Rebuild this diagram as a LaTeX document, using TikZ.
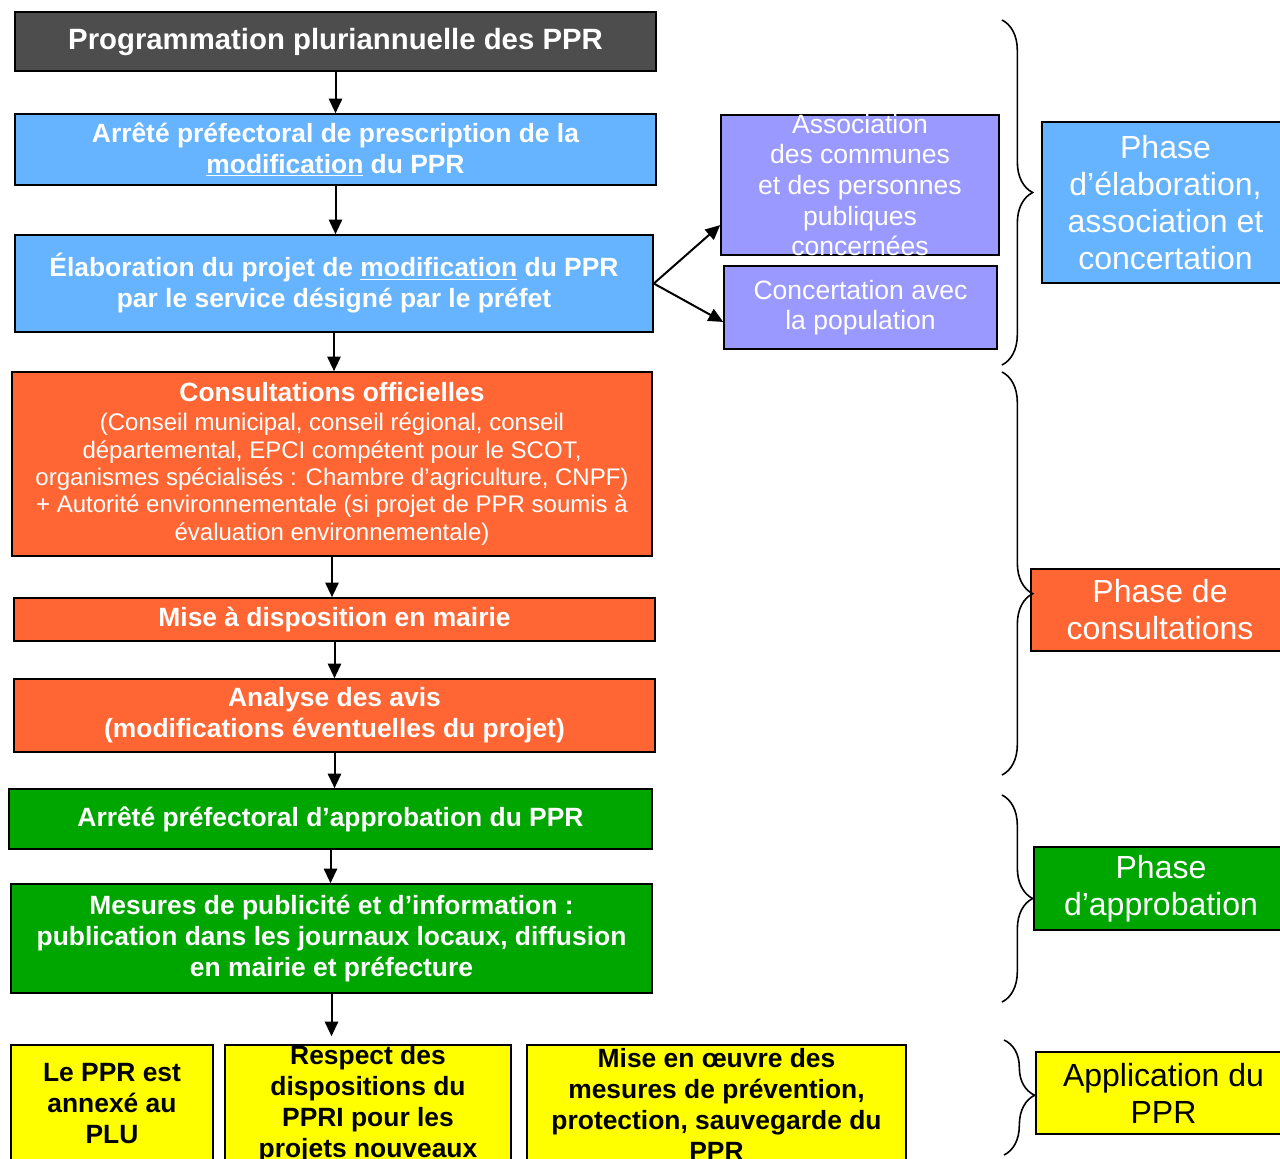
\documentclass[tikz,border=0pt]{standalone}
\usepackage{fontspec}
\setmainfont{Liberation Sans}
\usetikzlibrary{positioning, arrows.meta, decorations.pathreplacing}

\definecolor{gris}{HTML}{4D4D4D}
\definecolor{bleu}{HTML}{66B3FF}
\definecolor{mauve}{HTML}{9999FF}
\definecolor{orangeppr}{HTML}{FF6633}
\definecolor{vert}{HTML}{00A600}
\definecolor{jaune}{HTML}{FFFF00}

\tikzset{
  stepbox/.style={draw=black, line width=1.2pt, inner sep=0pt, align=center, text=white,
    font=\bfseries\fontsize{19.8}{23.25}\selectfont},
  sidebox/.style={stepbox, fill=mauve, font=\fontsize{19.9}{22.9}\selectfont},
  phasebox/.style={stepbox, font=\fontsize{24}{27.75}\selectfont},
  flow/.style={-{Triangle[length=11pt, width=10pt]}, line width=1.5pt},
  accolade/.style={decorate, decoration={brace, amplitude=23pt}, line width=1.2pt}
}

\begin{document}
\begin{tikzpicture}[x=0.75pt, y=-0.75pt]
  \useasboundingbox (0,0) rectangle (1280,1158);

  % flux principal
  \node[stepbox, fill=gris, minimum width=480.75pt, minimum height=44.25pt,
        font=\bfseries\fontsize{22}{24}\selectfont] (prog) at (335.5,41.5)
        {Programmation pluriannuelle des PPR};
  \node[stepbox, fill=bleu, minimum width=480.75pt, minimum height=53.25pt] (presc) at (335.5,149.5)
        {Arrêté préfectoral de prescription de la\\ \underline{modification} du PPR};
  \node[stepbox, fill=bleu, minimum width=478.5pt, minimum height=72.75pt] (elab) at (334,283.5)
        {Élaboration du projet de \underline{modification} du PPR\\ par le service désigné par le préfet};
  \node[sidebox, minimum width=208.5pt, minimum height=105pt, inner ysep=-4pt] (assoc) at (860,185)
        {Association\\ des communes\\ et des personnes\\ publiques\\ concernées};
  \node[sidebox, minimum width=204.75pt, minimum height=62.25pt] (concert) at (860.5,307.5)
        {Concertation avec\\ la population};
  \node[stepbox, fill=orangeppr, minimum width=480pt, minimum height=138pt,
        font=\fontsize{18}{20.6}\selectfont] (consult) at (332,464)
        {{\bfseries\fontsize{19.8}{20.6}\selectfont Consultations officielles}\\[1pt]
         (Conseil municipal, conseil régional, conseil\\
         départemental, EPCI compétent pour le SCOT,\\
         organismes spécialisés : Chambre d’agriculture, CNPF)\\
         + Autorité environnementale (si projet de PPR soumis à\\
         évaluation environnementale)};
  \node[stepbox, fill=orangeppr, minimum width=480.75pt, minimum height=32.25pt] (mise) at (334.5,619.5)
        {Mise à disposition en mairie};
  \node[stepbox, fill=orangeppr, minimum width=480.75pt, minimum height=54.75pt] (analyse) at (334.5,715.5)
        {Analyse des avis\\ (modifications éventuelles du projet)};
  \node[stepbox, fill=vert, minimum width=482.25pt, minimum height=45pt] (approb) at (330.5,819)
        {Arrêté préfectoral d’approbation du PPR};
  \node[stepbox, fill=vert, minimum width=480.75pt, minimum height=81.75pt] (mesures) at (331.5,938.5)
        {Mesures de publicité et d’information :\\ publication dans les journaux locaux, diffusion\\ en mairie et préfecture};

  % application
  \node[stepbox, fill=jaune, text=black, minimum width=151.5pt, minimum height=88.5pt] (plu) at (112,1104)
        {Le PPR est\\ annexé au\\ PLU};
  \node[stepbox, fill=jaune, text=black, minimum width=214.5pt, minimum height=88.5pt] (respect) at (368,1104)
        {Respect des\\ dispositions du\\ PPRI pour les\\ projets nouveaux};
  \node[stepbox, fill=jaune, text=black, minimum width=284.25pt, minimum height=88.5pt] (oeuvre) at (716.5,1104)
        {Mise en œuvre des\\ mesures de prévention,\\ protection, sauvegarde du\\ PPR};

  \path[flow]
    (prog.south)    edge (prog.south |- presc.north)
    (presc.south)   edge (presc.south |- elab.north)
    (elab.east)     edge (assoc.196)
    (elab.east)     edge (concert.186)
    (elab.south)    edge (elab.south |- consult.north)
    (consult.south) edge (consult.south |- mise.north)
    (mise.south)    edge (mise.south |- analyse.north)
    (analyse.south) edge (analyse.south |- approb.north)
    (approb.south)  edge (approb.south |- mesures.north)
    (mesures.south) edge[shorten >=6pt] (mesures.south |- respect.north);

  % phases
  \node[phasebox, fill=bleu, minimum width=185.25pt, minimum height=120.75pt] (ph1) at (1165.5,202.5)
        {Phase\\ d’élaboration,\\ association et\\ concertation};
  \node[phasebox, fill=orangeppr, minimum width=193.5pt, minimum height=61.5pt] (ph2) at (1160,610)
        {Phase de\\ consultations};
  \node[phasebox, fill=vert, minimum width=190.5pt, minimum height=62.25pt] (ph3) at (1161,888.5)
        {Phase\\ d’approbation};
  \node[phasebox, fill=jaune, text=black, minimum width=191.25pt, minimum height=61.5pt] (ph4) at (1163.5,1093)
        {Application du\\ PPR};

  \draw[accolade, decoration={aspect=0.5}]  (1002,20)   -- (1002,365);
  \draw[accolade, decoration={aspect=0.55}] (1002,372)  -- (1002,775);
  \draw[accolade, decoration={aspect=0.5}]  (1002,795)  -- (1002,1002);
  \draw[accolade, decoration={aspect=0.48}] (1004,1040) -- (1004,1155);
\end{tikzpicture}
\end{document}
